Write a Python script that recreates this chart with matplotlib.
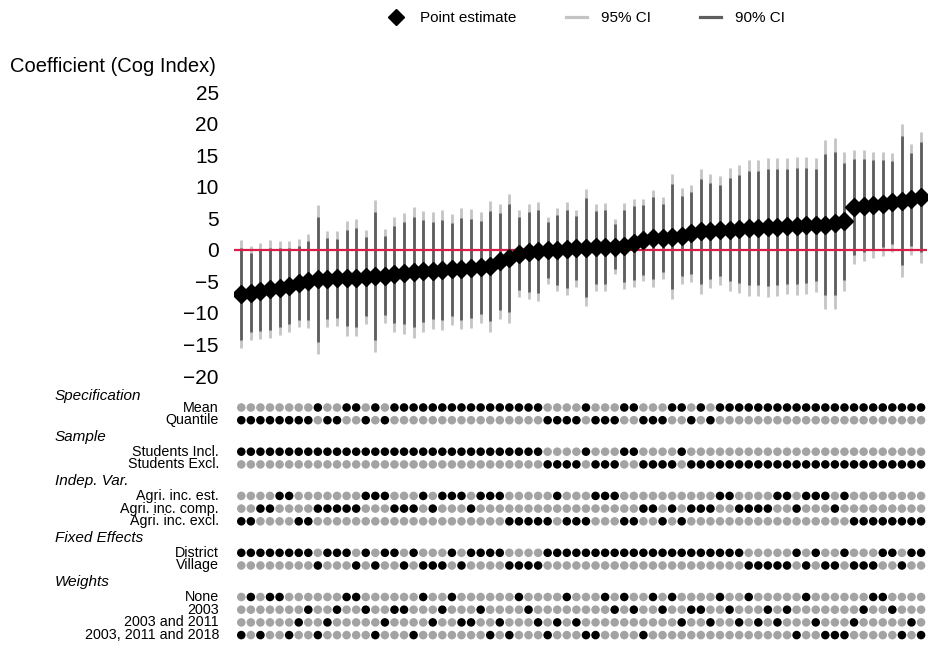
import matplotlib
matplotlib.use("Agg")
import matplotlib.pyplot as plt
import matplotlib.transforms as mtransforms
from matplotlib.lines import Line2D
import numpy as np

plt.rcParams['font.family'] = ['Liberation Sans', 'DejaVu Sans']

# point estimates (sorted) and standard errors
est = [-7.0, -6.8, -6.5, -6.2, -6.0, -5.8, -5.3, -4.9, -4.7, -4.6,
       -4.55, -4.5, -4.4, -4.3, -4.2, -4.1, -3.9, -3.7, -3.55, -3.4,
       -3.3, -3.2, -3.1, -3.0, -2.95, -2.8, -2.6, -1.85, -1.35, -0.6,
       -0.3, -0.2, -0.1, 0.0, 0.15, 0.25, 0.35, 0.4, 0.45, 0.5,
       0.6, 1.05, 1.55, 1.8, 1.9, 2.1, 2.2, 2.6, 2.9, 3.0,
       3.1, 3.2, 3.3, 3.4, 3.5, 3.55, 3.6, 3.7, 3.75, 3.85,
       3.9, 4.0, 4.2, 4.5, 6.8, 7.0, 7.1, 7.3, 7.5, 7.8,
       8.0, 8.3]
se = [4.4, 3.8, 3.9, 3.95, 3.8, 3.65, 3.55, 3.8, 6.0, 3.9,
      3.85, 4.65, 4.75, 3.8, 6.15, 3.8, 4.65, 4.9, 5.3, 4.9,
      4.7, 4.85, 4.5, 4.9, 4.8, 4.5, 5.3, 4.65, 5.2, 3.5,
      3.85, 4.0, 2.7, 3.35, 3.75, 3.1, 4.75, 3.5, 3.55, 2.2,
      3.45, 3.55, 3.35, 3.95, 3.3, 5.05, 3.85, 3.95, 5.05, 4.6,
      4.4, 5.0, 5.2, 5.5, 5.5, 5.6, 5.6, 5.5, 5.6, 5.5,
      5.4, 6.8, 6.9, 5.6, 4.6, 4.5, 4.3, 4.2, 4.0, 6.2,
      4.5, 5.3]

# specification choices per column
spec_mean = [0, 0, 0, 0, 0, 0, 0, 0, 1, 0, 0, 1, 1, 0, 1, 0,
             1, 1, 1, 1, 1, 1, 1, 1, 1, 1, 1, 1, 1, 1, 1, 1,
             0, 0, 0, 0, 1, 0, 0, 0, 1, 1, 0, 0, 0, 1, 1, 0,
             1, 0, 1, 1, 1, 1, 1, 1, 1, 1, 1, 1, 1, 1, 1, 1,
             1, 1, 1, 1, 1, 1, 1, 1]
sample_incl = [1, 1, 1, 1, 1, 1, 1, 1, 1, 1, 1, 1, 1, 1, 1, 1,
               1, 1, 1, 1, 1, 1, 1, 1, 1, 1, 1, 1, 1, 1, 1, 1,
               0, 0, 0, 0, 1, 0, 0, 0, 1, 1, 0, 0, 0, 0, 1, 0,
               0, 0, 0, 0, 0, 0, 0, 0, 0, 0, 0, 0, 0, 0, 0, 0,
               0, 0, 0, 0, 0, 0, 0, 0]
indep = [2, 2, 1, 1, 0, 0, 2, 2, 1, 1, 1, 1, 1, 0, 0, 0,
         1, 1, 1, 0, 1, 0, 0, 0, 1, 0, 0, 0, 2, 2, 2, 2,
         2, 0, 2, 2, 2, 0, 0, 0, 2, 2, 1, 1, 2, 1, 2, 1,
         1, 1, 0, 0, 1, 1, 1, 1, 0, 0, 1, 0, 0, 0, 1, 0,
         2, 2, 2, 2, 2, 2, 2, 2]
fe_district = [1, 1, 1, 1, 1, 1, 1, 1, 0, 1, 1, 1, 0, 1, 0, 1,
               1, 0, 1, 0, 0, 0, 1, 0, 1, 1, 1, 1, 0, 0, 0, 0,
               1, 1, 1, 1, 1, 1, 1, 1, 1, 1, 1, 1, 1, 1, 1, 1,
               1, 1, 1, 1, 1, 0, 0, 0, 0, 0, 1, 0, 1, 0, 0, 1,
               0, 0, 0, 1, 1, 0, 1, 1]
weights = [3, 0, 3, 0, 0, 3, 2, 1, 3, 2, 1, 0, 0, 1, 3, 2,
           1, 1, 3, 0, 2, 1, 0, 2, 2, 1, 3, 2, 3, 0, 1, 2,
           3, 2, 0, 2, 3, 3, 0, 1, 0, 1, 3, 0, 1, 0, 2, 1,
           1, 2, 0, 1, 2, 0, 2, 1, 2, 1, 3, 0, 2, 3, 3, 3,
           2, 1, 0, 0, 1, 3, 2, 3]

spec_labels = ["Mean", "Quantile"]
sample_labels = ["Students Incl.", "Students Excl."]
indep_labels = ["Agri. inc. est.", "Agri. inc. comp.", "Agri. inc. excl."]
fe_labels = ["District", "Village"]
weight_labels = ["None", "2003", "2003 and 2011", "2003, 2011 and 2018"]

yticks = [-20, -15, -10, -5, 0, 5, 10, 15, 20, 25]

est = np.array(est)
se = np.array(se)
x = np.arange(len(est))

# choice index per group (row within group that is active)
groups = [
    ("Specification", spec_labels, 1 - np.array(spec_mean)),
    ("Sample", sample_labels, 1 - np.array(sample_incl)),
    ("Indep. Var.", indep_labels, np.array(indep)),
    ("Fixed Effects", fe_labels, 1 - np.array(fe_district)),
    ("Weights", weight_labels, np.array(weights)),
]

fig = plt.figure(figsize=(9.29, 6.48), dpi=100)
W, H = 929, 648
left, right = 234, 927
xlim = (-0.76, 71.62)

# ---- top panel
ax = fig.add_axes([left / W, 1 - 376 / H, (right - left) / W, (376 - 92) / H])
ax.axhline(0, color='#D81E47', lw=1.6, zorder=2)
ax.vlines(x, est - 1.96 * se, est + 1.96 * se, color='#C4C4C4', lw=2.0, zorder=1)
ax.vlines(x, est - 1.645 * se, est + 1.645 * se, color='#5E5E5E', lw=2.0, zorder=1.5)
ax.plot(x, est, 'D', color='black', ms=8.8, zorder=3)
ax.set_xlim(*xlim)
ax.set_ylim(-20, 25)
ax.set_yticks(yticks)
ax.set_xticks([])
ax.tick_params(axis='y', length=0, pad=11, labelsize=15)
for s in ax.spines.values():
    s.set_visible(False)
fig.text(10 / W, 1 - 67 / H, "Coefficient (Cog Index)", fontsize=14.5, va='center')

handles = [Line2D([], [], marker='D', color='black', ls='none', ms=8),
           Line2D([], [], color='#C4C4C4', lw=2.3),
           Line2D([], [], color='#5E5E5E', lw=2.3)]
fig.legend(handles, ["Point estimate", "95% CI", "90% CI"], loc='center',
           bbox_to_anchor=(585 / W, 1 - 18 / H), ncol=3, frameon=False,
           fontsize=11, handlelength=1.4, handletextpad=0.9, columnspacing=3.2)

# ---- dot matrix
ax2 = fig.add_axes([left / W, 1 - 645 / H, (right - left) / W, (645 - 388) / H])
ax2.set_xlim(*xlim)
ax2.set_ylim(645 - 396, 388 - 396)
ax2.axis('off')
trans = mtransforms.blended_transform_factory(fig.transFigure, ax2.transData)

pos = 0.0
for gi, (title, labels, choice) in enumerate(groups):
    if gi > 0:
        pos += 16.5
    fig.text(55 / W, pos, title, transform=trans, fontsize=11, style='italic', va='center')
    pos += 11.5 if gi == 0 else 15
    for k, lab in enumerate(labels):
        if k > 0:
            pos += 12.7
        cols = np.where(choice == k, 'black', '#A3A3A3')
        ax2.scatter(x, np.full(len(x), pos), s=38, c=cols, linewidths=0)
        fig.text(219 / W, pos, lab, transform=trans, fontsize=10.3, ha='right', va='center')

fig.savefig("out.png", dpi=100)
